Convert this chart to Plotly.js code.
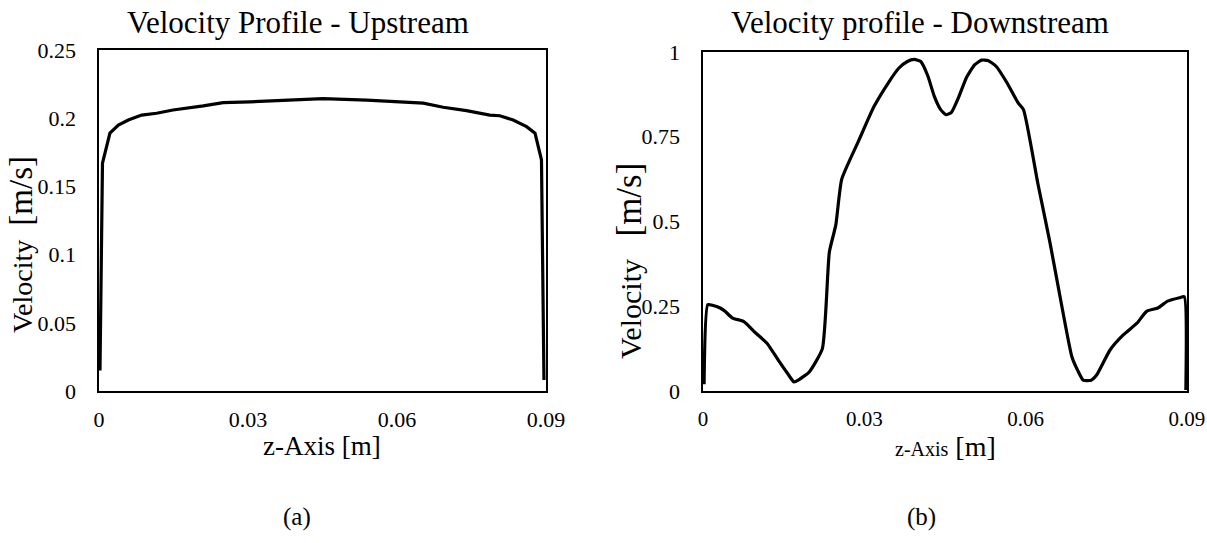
<!DOCTYPE html>
<html>
<head>
<meta charset="utf-8">
<script src="https://cdn.plot.ly/plotly-3.0.1.min.js"></script>
<style>html,body{margin:0;padding:0;background:#fff;}#chart{width:1207px;height:543px;}</style>
</head>
<body>
<div id="chart"></div>
<script>
// Upstream profile
const upX = [0.0002, 0.0007, 0.0022, 0.0039, 0.0059, 0.0086, 0.0116, 0.0149, 0.0210, 0.0250, 0.0304, 0.0405, 0.0451, 0.0539, 0.0653, 0.0693, 0.0740, 0.0787, 0.0807, 0.0834, 0.0861, 0.0878, 0.0891, 0.0896];
const upY = [0.015, 0.167, 0.189, 0.195, 0.1987, 0.2023, 0.2036, 0.206, 0.209, 0.2114, 0.212, 0.2138, 0.2143, 0.2133, 0.211, 0.208, 0.2055, 0.2023, 0.2018, 0.1987, 0.1938, 0.189, 0.1694, 0.008];
// Downstream profile
const downX = [0.0002, 0.0009, 0.0019, 0.0032, 0.0041, 0.0055, 0.0076, 0.0098, 0.0119, 0.0140, 0.0158, 0.0169, 0.0178, 0.0198, 0.0222, 0.0235, 0.0247, 0.0258, 0.0290, 0.0318, 0.0345, 0.0364, 0.0380, 0.0393, 0.0405, 0.0418, 0.0430, 0.0442, 0.0452, 0.0462, 0.0475, 0.0490, 0.0505, 0.0518, 0.0530, 0.0545, 0.0565, 0.0586, 0.0596, 0.0623, 0.0645, 0.0665, 0.0686, 0.0697, 0.0707, 0.0722, 0.0732, 0.0757, 0.0782, 0.0807, 0.0825, 0.0846, 0.0864, 0.0886, 0.0895, 0.0898];
const downY = [0.02, 0.255, 0.252, 0.245, 0.235, 0.215, 0.205, 0.171, 0.141, 0.091, 0.05, 0.027, 0.033, 0.057, 0.125, 0.41, 0.49, 0.625, 0.74, 0.839, 0.91, 0.952, 0.972, 0.978, 0.972, 0.93, 0.87, 0.83, 0.815, 0.822, 0.865, 0.925, 0.962, 0.976, 0.975, 0.958, 0.91, 0.85, 0.83, 0.61, 0.44, 0.27, 0.101, 0.06, 0.032, 0.032, 0.047, 0.121, 0.166, 0.2, 0.235, 0.245, 0.265, 0.275, 0.278, 0.003];

const xTickVals = [0, 0.03, 0.06, 0.09];
const xTickText = ["0", "0.03", "0.06", "0.09"];
const upTickVals = [0, 0.05, 0.1, 0.15, 0.2, 0.25];
const upTickText = ["0", "0.05", "0.1", "0.15", "0.2", "0.25"];
const downTickVals = [0, 0.25, 0.5, 0.75, 1];
const downTickText = ["0", "0.25", "0.5", "0.75", "1"];

const W = 1207, H = 543;
const px = v => v / W;
const py = v => 1 - v / H;
const FONT = "'Liberation Serif', 'Times New Roman', serif";

function axis(extra) {
  return Object.assign({
    showgrid: false, zeroline: false, showline: true, mirror: true,
    linecolor: "#000", linewidth: 1.6, ticks: "",
    ticklabeloverflow: "allow",
    tickfont: {family: FONT, size: 22, color: "#000"}
  }, extra);
}

const traces = [
  {x: upX, y: upY, xaxis: "x", yaxis: "y", mode: "lines", line: {color: "#000", width: 3.2, shape: "linear"}, hoverinfo: "skip"},
  {x: downX, y: downY, xaxis: "x2", yaxis: "y2", mode: "lines", line: {color: "#000", width: 3.2, shape: "spline", smoothing: 0.5}, hoverinfo: "skip"}
];

const XMAX = 0.09001;
const layout = {
  width: W, height: H,
  margin: {l: 0, r: 0, t: 0, b: 0},
  paper_bgcolor: "#fff", plot_bgcolor: "#fff",
  showlegend: false,
  font: {family: FONT, color: "#000"},
  xaxis: axis({domain: [px(99), px(546)], range: [0, XMAX], tickvals: xTickVals, ticktext: xTickText, ticklabelstandoff: 8, anchor: "y"}),
  yaxis: axis({domain: [py(391), py(50)], range: [0, 0.25], tickvals: upTickVals, ticktext: upTickText, ticklabelstandoff: 17, anchor: "x"}),
  xaxis2: axis({domain: [px(703), px(1187)], range: [0, XMAX], tickvals: xTickVals, ticktext: xTickText, ticklabelstandoff: 8, anchor: "y2", tickfont: {family: FONT, size: 21, color: "#000"}}),
  yaxis2: axis({domain: [py(391), py(52)], range: [0, 1], tickvals: downTickVals, ticktext: downTickText, ticklabelstandoff: 17, anchor: "x2"}),
  annotations: [
    {text: "Velocity Profile - Upstream", x: px(298), y: py(22), xref: "paper", yref: "paper", showarrow: false, xanchor: "center", yanchor: "middle", font: {family: FONT, size: 31, color: "#000"}},
    {text: "Velocity profile - Downstream", x: px(920), y: py(22), xref: "paper", yref: "paper", showarrow: false, xanchor: "center", yanchor: "middle", font: {family: FONT, size: 31, color: "#000"}},
    {text: "z-Axis [m]", x: px(322), y: py(446), xref: "paper", yref: "paper", showarrow: false, xanchor: "center", yanchor: "middle", font: {family: FONT, size: 27, color: "#000"}},
    {text: "<span style='font-size:20px'>z-Axis</span> [m]", x: px(945), y: py(446), xref: "paper", yref: "paper", showarrow: false, xanchor: "center", yanchor: "middle", font: {family: FONT, size: 28, color: "#000"}},
    {text: "Velocity&nbsp;&nbsp;<span style='font-size:33px'>[m/s]</span>", x: px(21), y: py(245), xref: "paper", yref: "paper", showarrow: false, xanchor: "center", yanchor: "middle", textangle: -90, font: {family: FONT, size: 28, color: "#000"}},
    {text: "Velocity&nbsp;&nbsp;&nbsp;<span style='font-size:35px'>[m/s]</span>", x: px(629), y: py(261), xref: "paper", yref: "paper", showarrow: false, xanchor: "center", yanchor: "middle", textangle: -90, font: {family: FONT, size: 30, color: "#000"}},
    {text: "(a)", x: px(297), y: py(517), xref: "paper", yref: "paper", showarrow: false, xanchor: "center", yanchor: "middle", font: {family: FONT, size: 25, color: "#000"}},
    {text: "(b)", x: px(921), y: py(517), xref: "paper", yref: "paper", showarrow: false, xanchor: "center", yanchor: "middle", font: {family: FONT, size: 25, color: "#000"}}
  ]
};

Plotly.newPlot("chart", traces, layout, {staticPlot: true, displayModeBar: false});
</script>
</body>
</html>
